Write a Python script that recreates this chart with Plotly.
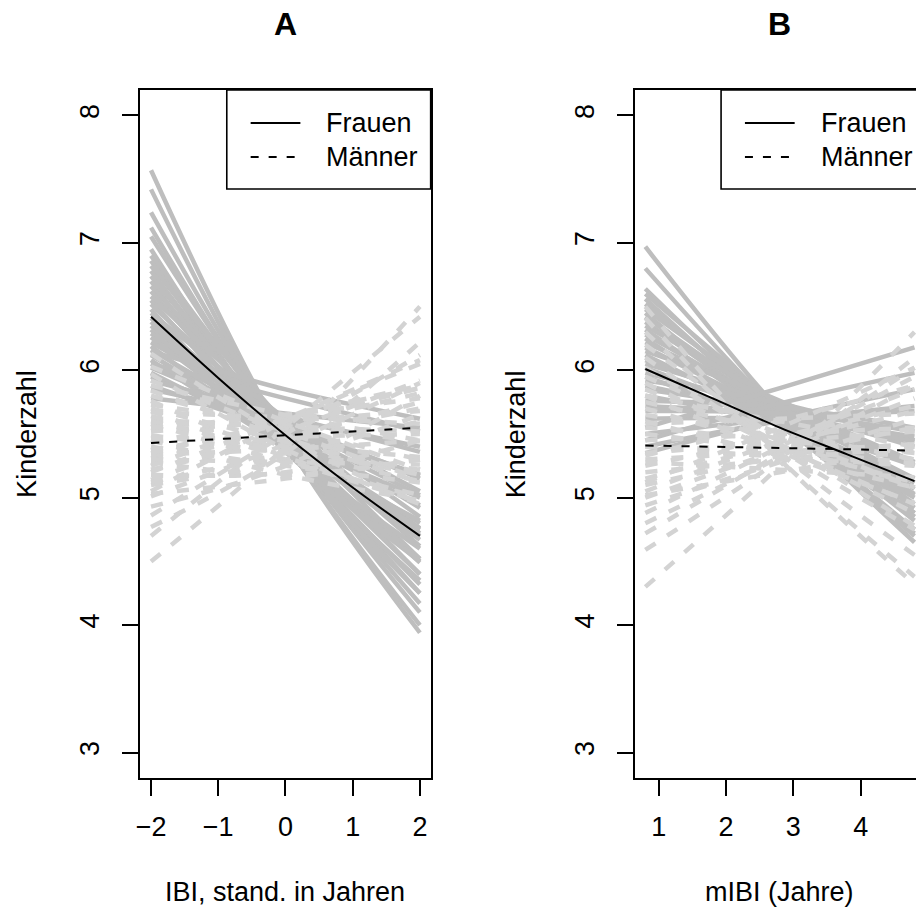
import plotly.graph_objects as go

W, H = 916, 912

# ---------------- data ----------------
# Panel A: x positions of the read values
a_x = [-2, 0, 2]
# each draw: y at x = -2, 0, 2  (Frauen, solid grey)
a_frauen = [
    (7.57, 5.45, 3.94), (7.42, 5.44, 4.00), (7.24, 5.46, 4.10), (7.12, 5.45, 4.17),
    (7.05, 5.48, 4.25), (6.95, 5.40, 4.25), (6.90, 5.52, 4.40), (6.86, 5.44, 4.32),
    (6.82, 5.58, 4.52), (6.78, 5.46, 4.40), (6.74, 5.50, 4.49), (6.70, 5.38, 4.35),
    (6.66, 5.56, 4.62), (6.62, 5.47, 4.52), (6.58, 5.60, 4.70), (6.55, 5.42, 4.50),
    (6.52, 5.55, 4.72), (6.48, 5.36, 4.50), (6.45, 5.62, 4.85), (6.41, 5.52, 4.75),
    (6.38, 5.46, 4.67), (6.35, 5.50, 4.76), (6.32, 5.38, 4.60), (6.29, 5.58, 4.92),
    (6.26, 5.48, 4.80), (6.22, 5.62, 5.05), (6.19, 5.42, 4.76), (6.16, 5.56, 5.02),
    (6.12, 5.50, 4.94), (6.08, 5.40, 4.82), (6.05, 5.60, 5.15), (6.02, 5.58, 5.17),
    (5.98, 5.46, 5.00), (5.95, 5.55, 5.18), (5.92, 5.64, 5.36), (5.88, 5.52, 5.18),
    (5.85, 5.62, 5.40), (5.78, 5.66, 5.55), (6.15, 5.85, 5.62), (6.05, 5.78, 5.52),
]
# each draw: y at x = -2, 0, 2  (Männer, dashed light grey)
a_maenner = [
    (4.50, 5.40, 6.50), (4.70, 5.55, 6.42), (4.77, 5.35, 6.22), (4.86, 5.50, 6.12),
    (4.93, 5.25, 5.80), (5.01, 5.42, 5.90), (5.05, 5.60, 6.05), (5.10, 5.30, 5.65),
    (5.14, 5.52, 5.92), (5.18, 5.20, 5.45), (5.22, 5.47, 5.75), (5.25, 5.62, 5.88),
    (5.28, 5.18, 5.30), (5.31, 5.50, 5.70), (5.34, 5.38, 5.45), (5.37, 5.58, 5.82),
    (5.40, 5.25, 5.12), (5.43, 5.65, 5.86), (5.46, 5.48, 5.50), (5.49, 5.35, 5.22),
    (5.52, 5.60, 5.68), (5.55, 5.42, 5.32), (5.58, 5.28, 5.02), (5.61, 5.56, 5.52),
    (5.64, 5.40, 5.18), (5.67, 5.63, 5.58), (5.70, 5.44, 5.20), (5.73, 5.58, 5.44),
    (5.76, 5.32, 5.00), (5.80, 5.54, 5.30), (5.84, 5.47, 5.12), (5.88, 5.65, 5.45),
    (5.92, 5.52, 5.15), (5.97, 5.38, 4.95), (6.03, 5.60, 5.22), (6.13, 5.47, 4.95),
    (5.03, 5.15, 5.30), (5.12, 5.35, 5.60), (5.20, 5.62, 6.08), (5.30, 5.28, 5.26),
    (5.45, 5.18, 4.98), (5.60, 5.36, 5.13), (5.35, 5.60, 5.86), (5.55, 5.65, 5.78),
    (5.68, 5.30, 4.97),
]
a_mean_x = [-2, -1, 0, 1, 2]
a_mean_frauen = [6.42, 5.94, 5.49, 5.08, 4.70]
a_mean_maenner = [5.43, 5.46, 5.49, 5.52, 5.55]

# Panel B
b_x = [0.8, 2.8, 4.8]
b_frauen = [
    (6.97, 5.68, 4.65), (6.80, 5.66, 4.72), (6.64, 5.64, 4.75), (6.60, 5.71, 4.85),
    (6.56, 5.61, 4.70), (6.52, 5.66, 4.82), (6.48, 5.72, 4.95), (6.45, 5.58, 4.75),
    (6.42, 5.68, 4.92), (6.38, 5.64, 4.88), (6.35, 5.74, 5.07), (6.32, 5.61, 4.88),
    (6.28, 5.68, 5.02), (6.25, 5.56, 4.85), (6.22, 5.71, 5.12), (6.18, 5.64, 5.03),
    (6.15, 5.76, 5.25), (6.12, 5.59, 5.00), (6.08, 5.66, 5.15), (6.05, 5.72, 5.28),
    (6.02, 5.61, 5.12), (5.98, 5.68, 5.28), (5.95, 5.56, 5.08), (5.92, 5.74, 5.45),
    (5.88, 5.63, 5.27), (5.85, 5.68, 5.40), (5.80, 5.58, 5.25), (5.76, 5.71, 5.55),
    (5.72, 5.64, 5.44), (5.68, 5.66, 5.52), (5.62, 5.61, 5.48), (5.50, 5.62, 5.68),
    (5.35, 5.62, 5.85), (5.55, 5.86, 6.18), (5.45, 5.74, 5.98), (5.40, 5.60, 5.72),
]
b_maenner = [
    (4.30, 5.25, 6.30), (4.59, 5.30, 6.10), (4.72, 5.35, 6.02), (4.80, 5.32, 5.88),
    (4.88, 5.40, 5.95), (4.94, 5.28, 5.62), (5.00, 5.38, 5.78), (5.05, 5.45, 5.85),
    (5.10, 5.33, 5.55), (5.15, 5.42, 5.68), (5.20, 5.30, 5.40), (5.25, 5.48, 5.72),
    (5.30, 5.36, 5.42), (5.35, 5.44, 5.52), (5.40, 5.32, 5.25), (5.45, 5.50, 5.55),
    (5.50, 5.38, 5.27), (5.55, 5.45, 5.35), (5.60, 5.33, 5.08), (5.65, 5.48, 5.30),
    (5.70, 5.40, 5.12), (5.75, 5.52, 5.30), (5.80, 5.36, 4.96), (5.85, 5.45, 5.08),
    (5.90, 5.40, 4.95), (5.95, 5.50, 5.08), (6.02, 5.42, 4.88), (6.10, 5.38, 4.75),
    (6.20, 5.45, 4.78), (6.30, 5.35, 4.55), (6.41, 5.30, 4.38), (6.50, 5.30, 4.32),
    (5.12, 5.55, 6.02), (5.33, 5.60, 5.88), (5.58, 5.62, 5.66), (5.80, 5.60, 5.40),
    (5.02, 5.20, 5.38), (5.28, 5.22, 5.16),
]
b_mean_x = [0.8, 1.8, 2.8, 3.8, 4.8]
b_mean_frauen = [6.01, 5.78, 5.55, 5.34, 5.13]
b_mean_maenner = [5.41, 5.40, 5.39, 5.38, 5.37]

a_xticks = [-2, -1, 0, 1, 2]
b_xticks = [1, 2, 3, 4, 5]
y_ticks = [3, 4, 5, 6, 7, 8]
legend_labels = ["Frauen", "Männer"]
titles = ["A", "B"]
x_titles = ["IBI, stand. in Jahren", "mIBI (Jahre)"]
y_title = "Kinderzahl"

# ---------------- styling ----------------
FONT = "Liberation Sans, Arial, Helvetica, sans-serif"
FS = 27
GREY = "#BEBEBE"
LGREY = "#D3D3D3"
GW = 4.5
GDASH = "12px,14px"
BDASH = "8px,10px"


def px(x):
    return x / W


def py(y):
    return 1 - y / H


fig = go.Figure()


def add_panel(xref, yref, xs, frauen, maenner, mx, mf, mm):
    for d in frauen:
        fig.add_trace(go.Scatter(x=xs, y=list(d), mode="lines", xaxis=xref, yaxis=yref,
                                 line=dict(color=GREY, width=GW, shape="spline"),
                                 showlegend=False, hoverinfo="skip"))
    for d in maenner:
        fig.add_trace(go.Scatter(x=xs, y=list(d), mode="lines", xaxis=xref, yaxis=yref,
                                 line=dict(color=LGREY, width=GW, shape="spline", dash=GDASH),
                                 showlegend=False, hoverinfo="skip"))
    fig.add_trace(go.Scatter(x=mx, y=mf, mode="lines", xaxis=xref, yaxis=yref,
                             line=dict(color="black", width=2, shape="spline"),
                             showlegend=False, hoverinfo="skip"))
    fig.add_trace(go.Scatter(x=mx, y=mm, mode="lines", xaxis=xref, yaxis=yref,
                             line=dict(color="black", width=2, shape="spline", dash=BDASH),
                             showlegend=False, hoverinfo="skip"))


add_panel("x", "y", a_x, a_frauen, a_maenner, a_mean_x, a_mean_frauen, a_mean_maenner)
add_panel("x2", "y2", b_x, b_frauen, b_maenner, b_mean_x, b_mean_frauen, b_mean_maenner)

# panel geometry in pixels
A_L, A_R = 136, 428
B_L, B_R = 633, 916
P_T, P_B = 90, 778

axis_common = dict(showline=True, linecolor="black", linewidth=2, ticks="outside",
                   ticklen=16, tickwidth=2, tickcolor="black", showgrid=False,
                   zeroline=False, tickfont=dict(family=FONT, size=FS, color="black"))

fig.update_layout(
    width=W, height=H, margin=dict(l=0, r=0, t=0, b=0),
    paper_bgcolor="white", plot_bgcolor="white",
    font=dict(family=FONT, size=FS, color="black"),
    xaxis=dict(domain=[px(A_L), px(A_R)], range=[-2.16, 2.16], tickvals=a_xticks,
               mirror=True, anchor="y", ticklabelstandoff=8, **axis_common),
    yaxis=dict(domain=[py(P_B), py(P_T)], range=[2.8, 8.2], tickvals=y_ticks,
               mirror=True, anchor="x", tickangle=-90, ticklabelstandoff=12, **axis_common),
    xaxis2=dict(domain=[px(B_L), 1.0], range=[0.64, 4.822], tickvals=b_xticks,
                mirror=True, anchor="y2", ticklabelstandoff=8, **axis_common),
    yaxis2=dict(domain=[py(P_B), py(P_T)], range=[2.8, 8.2], tickvals=y_ticks,
                mirror=False, anchor="x2", tickangle=-90, ticklabelstandoff=12, **axis_common),
)

shapes = []
annotations = []

panels = [(A_L, A_R, 22), (B_L, B_L + (A_R - A_L), 514)]
for i, (L, R, ytx) in enumerate(panels):
    cx = (L + R) / 2
    # title
    annotations.append(dict(x=px(cx), y=py(24), xref="paper", yref="paper", text="<b>%s</b>" % titles[i],
                            showarrow=False, font=dict(family=FONT, size=32), xanchor="center", yanchor="middle"))
    # x title
    annotations.append(dict(x=px(cx), y=py(892), xref="paper", yref="paper", text=x_titles[i],
                            showarrow=False, font=dict(family=FONT, size=FS), xanchor="center", yanchor="middle"))
    # y title
    annotations.append(dict(x=px(ytx), y=py((P_T + P_B) / 2), xref="paper", yref="paper", text=y_title,
                            textangle=-90, showarrow=False, font=dict(family=FONT, size=FS),
                            xanchor="center", yanchor="middle"))
    # legend box
    lx0 = L + 87
    shapes.append(dict(type="rect", xref="paper", yref="paper", x0=px(lx0), x1=px(R), y0=py(189), y1=py(P_T),
                       line=dict(color="black", width=1.6), fillcolor="white"))
    shapes.append(dict(type="line", xref="paper", yref="paper", x0=px(lx0 + 24), x1=px(lx0 + 74),
                       y0=py(123), y1=py(123), line=dict(color="black", width=2)))
    shapes.append(dict(type="line", xref="paper", yref="paper", x0=px(lx0 + 24), x1=px(lx0 + 74),
                       y0=py(157), y1=py(157), line=dict(color="black", width=2, dash=BDASH)))
    for j, lab in enumerate(legend_labels):
        annotations.append(dict(x=px(lx0 + 98), y=py(123 + 34 * j), xref="paper", yref="paper", text=lab,
                                showarrow=False, font=dict(family=FONT, size=FS),
                                xanchor="left", yanchor="middle"))

fig.update_layout(shapes=shapes, annotations=annotations)
fig.write_html("out.html")
